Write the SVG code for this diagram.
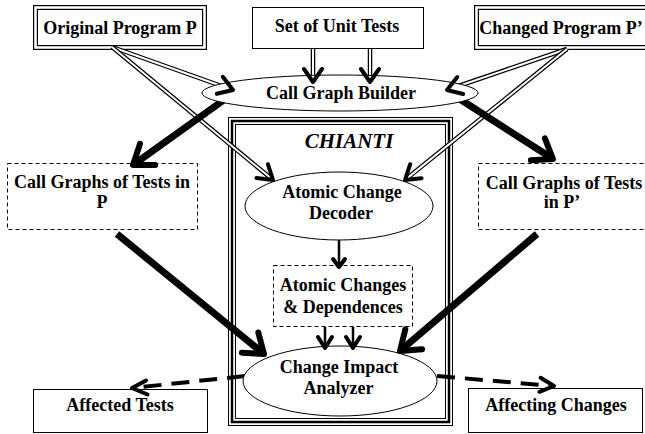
<svg xmlns="http://www.w3.org/2000/svg" width="645" height="434" viewBox="0 0 645 434">
<style>
text{font-family:"Liberation Serif","Times New Roman",serif;font-weight:bold;font-size:18px;fill:#000;text-anchor:middle}
.it{font-style:italic;font-size:21px}
.box{fill:#fff;stroke:#000;stroke-width:1}
.dbox{fill:#fff;stroke:#000;stroke-width:1;stroke-dasharray:4 3}
.ell{fill:#fff;stroke:#000;stroke-width:1}
.dblo{fill:none;stroke:#000;stroke-width:5}
.dbli{fill:none;stroke:#fff;stroke-width:2.6}
.dl{fill:none;stroke:#000;stroke-width:4.5}
.dli{fill:none;stroke:#fff;stroke-width:2}
.dh{fill:none;stroke:#000;stroke-width:4;stroke-linecap:round;stroke-linejoin:round}
.tk{fill:none;stroke:#000;stroke-width:7}
.th{fill:none;stroke:#000;stroke-width:6;stroke-linecap:round;stroke-linejoin:round}
.ds{fill:none;stroke:#000;stroke-width:4;stroke-dasharray:18 10}
.sl{fill:none;stroke:#000;stroke-width:2.5}
</style>

<g id="chianti">
<rect x="232" y="121" width="217" height="301" fill="#fff" stroke="#000" stroke-width="8"/>
<rect x="232" y="121" width="217" height="301" fill="none" stroke="#fff" stroke-width="6"/>
<rect x="232" y="121" width="217" height="301" fill="none" stroke="#000" stroke-width="2.5"/>
<text class="it" x="349" y="148">CHIANTI</text>
</g>

<g id="original">
<rect x="35.5" y="7.5" width="169" height="40" class="dblo" fill="#fff"/>
<rect x="35.5" y="7.5" width="169" height="40" class="dbli"/>
<text x="120" y="34">Original Program P</text>
</g>

<g id="unittests">
<rect x="252.5" y="7.5" width="171" height="41" class="box"/>
<text x="337" y="32">Set of Unit Tests</text>
</g>

<g id="changed">
<rect x="476.5" y="7.5" width="175" height="40" class="dblo" fill="#fff"/>
<rect x="476.5" y="7.5" width="175" height="40" class="dbli"/>
<text x="561" y="34">Changed Program P’</text>
</g>

<g id="cgtp">
<rect x="7.5" y="163.5" width="190" height="66" class="dbox"/>
<text x="102" y="188">Call Graphs of Tests in</text>
<text x="102" y="208">P</text>
</g>

<g id="cgtp2">
<rect x="478.5" y="163.5" width="172" height="66" class="dbox"/>
<text x="564" y="189">Call Graphs of Tests</text>
<text x="562" y="208">in P’</text>
</g>

<g id="acbox">
<rect x="273.5" y="265.5" width="139" height="61" class="dbox"/>
<text x="343" y="291">Atomic Changes</text>
<text x="343" y="313">&amp; Dependences</text>
</g>

<g id="affected">
<rect x="33.5" y="389.5" width="174" height="43" class="box"/>
<text x="120" y="411">Affected Tests</text>
</g>

<g id="affecting">
<rect x="468.5" y="388.5" width="174" height="44" class="box"/>
<text x="556" y="411">Affecting Changes</text>
</g>

<g id="connectors">
<line x1="112" y1="47" x2="230" y2="89" class="dl"/>
<line x1="112" y1="47" x2="230" y2="89" class="dli"/>
<line x1="112" y1="47" x2="270.7" y2="178.1" class="dl"/>
<line x1="112" y1="47" x2="270.7" y2="178.1" class="dli"/>
<line x1="313" y1="49" x2="313" y2="79" class="dl"/>
<line x1="313" y1="49" x2="313" y2="79" class="dli"/>
<line x1="370" y1="49" x2="370" y2="79" class="dl"/>
<line x1="370" y1="49" x2="370" y2="79" class="dli"/>
<line x1="567" y1="49" x2="449.8" y2="89" class="dl"/>
<line x1="567" y1="49" x2="449.8" y2="89" class="dli"/>
<line x1="567" y1="49" x2="407.3" y2="178.1" class="dl"/>
<line x1="567" y1="49" x2="407.3" y2="178.1" class="dli"/>
<line x1="228" y1="97" x2="136.3" y2="162.7" class="tk"/>
<line x1="455" y1="96" x2="549.6" y2="156.8" class="tk"/>
<line x1="117" y1="234" x2="260.9" y2="351.5" class="tk"/>
<line x1="537" y1="234" x2="403" y2="348.4" class="tk"/>
<line x1="245" y1="376" x2="134" y2="387.8" class="ds"/>
<line x1="437" y1="376" x2="552" y2="385.8" class="ds"/>
<line x1="339" y1="240" x2="339" y2="266" class="sl"/>
<line x1="325" y1="327" x2="325" y2="346" class="sl" stroke-width="3.5"/>
<line x1="353" y1="327" x2="353" y2="346" class="sl" stroke-width="3.5"/>
</g>

<g id="cgb">
<ellipse cx="340" cy="93" rx="138" ry="18" class="ell" fill="none"/>
</g>
<g id="decoder">
<ellipse cx="339" cy="206" rx="94" ry="34" class="ell"/>
<text x="342" y="198">Atomic Change</text>
<text x="341" y="219">Decoder</text>
</g>
<g id="cia">
<ellipse cx="340" cy="381" rx="97" ry="35" class="ell"/>
<text x="339" y="373">Change Impact</text>
<text x="338.5" y="394">Analyzer</text>
</g>

<g id="arrowheads">
<polyline points="222.8,76.8 233,90 216.8,93.8" class="dh"/>
<polyline points="267.9,164.2 273,180 256.5,178" class="dh"/>
<polyline points="304,69 313,82 322,69" class="dh"/>
<polyline points="361,69 370,82 379,69" class="dh"/>
<polyline points="457.3,77 447,90 463.1,94" class="dh"/>
<polyline points="410.2,164.2 405,180 421.6,178.2" class="dh"/>
<polyline points="140,143.9 133,165 155.2,165.1" class="th"/>
<polyline points="530.9,160.2 553,159 544.9,138.4" class="th"/>
<polyline points="241.9,352.7 264,354 258.3,332.5" class="th"/>
<polyline points="405.3,329.4 400,351 422.1,349.2" class="th"/>
<polyline points="146,380.5 132,388 147.5,394.5" class="dh"/>
<polyline points="539.4,391.8 554,386 540.6,377.8" class="dh"/>
<polyline points="333,259 339,267 345,259" class="dh" stroke-width="3"/>
<polyline points="318,337 325,348 332,337" class="dh"/>
<polyline points="346,337 353,348 360,337" class="dh"/>
</g>

<g id="cgbtext">
<text x="341" y="99">Call Graph Builder</text>
</g>
</svg>
